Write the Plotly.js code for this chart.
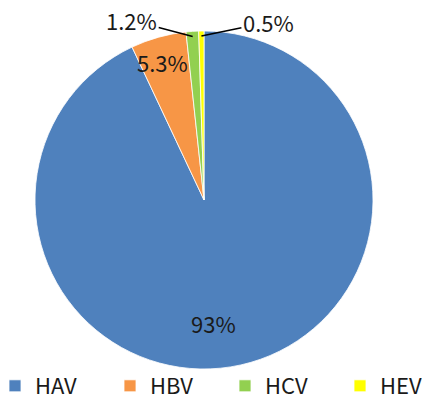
<!DOCTYPE html>
<html><head><meta charset="utf-8">
<script src="https://cdn.plot.ly/plotly-3.0.1.min.js"></script>
<style>html,body{margin:0;padding:0;overflow:hidden;background:#fff;}#wrap{width:422px;height:400px;overflow:hidden;position:relative;background:#fff;}#chart{width:480px;height:407px;position:absolute;left:-5px;top:0;}</style>
</head><body><div id="wrap"><div id="chart"></div></div>
<script>
const labels = ['HAV', 'HBV', 'HCV', 'HEV'];
const values = [93, 5.3, 1.2, 0.5];
const texts = ['93%', '5.3%', '1.2%', '0.5%'];
const colors = ['#4F81BD', '#F79646', '#92D050', '#FFFF00'];

// label placement styles
const labelInside = [true, true, false, false];
const labelRadius = [0.73, 0.85, 0.97, 0.97];
const labelAngleShift = [8.4, -1.0, 0, 0];
const labelOffX = [0, 0, -61, 67];
const labelOffY = [0, 0, -16, -14];

// chart is drawn slightly larger than the 422x400 view (shifted 5px left, 7px taller) so the legend keeps one row near the bottom
const SHIFTX = 5;
const W = 480, H = 407;
const FONT = 'Noto Sans CJK KR, Noto Sans, sans-serif';
const dom = {
  x: [(35 + SHIFTX) / W, (373 + SHIFTX) / W],
  y: [(H - 369) / H, (H - 31) / H]
};
const cx = (dom.x[0] + dom.x[1]) / 2 * W;
const cy = (1 - (dom.y[0] + dom.y[1]) / 2) * H;
const R = Math.min((dom.x[1] - dom.x[0]) * W, (dom.y[1] - dom.y[0]) * H) / 2;

const total = values.reduce((a, b) => a + b, 0);
let cum = 0;
const annotations = values.map((v, i) => {
  const mid = (cum + v / 2) / total * 360;
  cum += v;
  const ang = (mid + labelAngleShift[i]) * Math.PI / 180;
  const r = labelRadius[i] * R;
  const px = cx + r * Math.sin(ang);
  const py = cy - r * Math.cos(ang);
  const a = {
    text: texts[i], xref: 'paper', yref: 'paper',
    x: px / W, y: 1 - py / H,
    xanchor: 'center', yanchor: 'middle',
    font: {family: FONT, size: 22, color: '#1a1a1a'}
  };
  if (labelInside[i]) {
    a.showarrow = false;
  } else {
    a.showarrow = true; a.arrowhead = 0; a.arrowwidth = 1.5; a.arrowcolor = '#000000';
    a.ax = labelOffX[i]; a.ay = labelOffY[i];
  }
  return a;
});

const trace = {
  type: 'pie',
  labels: labels,
  values: values,
  text: texts,
  textinfo: 'none',
  hoverinfo: 'label+text',
  sort: false,
  direction: 'clockwise',
  rotation: 0,
  marker: {colors: colors, line: {color: '#ffffff', width: 0.8}},
  domain: dom
};

const layout = {
  width: W, height: H,
  margin: {l: 0, r: 0, t: 0, b: 0},
  paper_bgcolor: '#ffffff',
  showlegend: true,
  annotations: annotations,
  legend: {
    orientation: 'h', x: 0, xanchor: 'left', y: 0, yanchor: 'bottom',
    bgcolor: 'rgba(0,0,0,0)',
    font: {family: FONT, size: 22, color: '#1a1a1a'},
    entrywidth: 70, entrywidthmode: 'pixels', traceorder: 'normal'
  }
};

Plotly.newPlot('chart', [trace], layout, {displayModeBar: false, staticPlot: true});
</script></body></html>
